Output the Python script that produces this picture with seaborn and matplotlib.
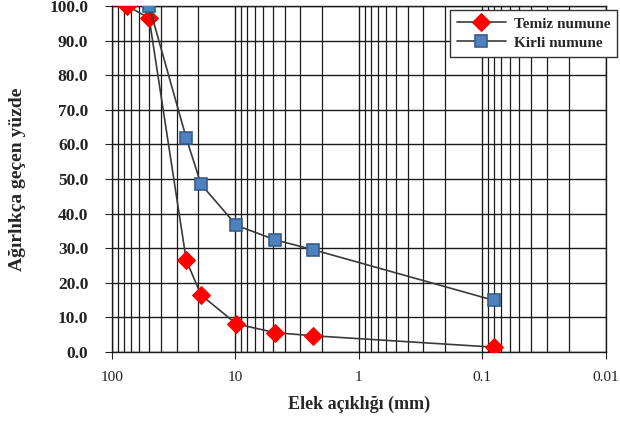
import pandas as pd
import numpy as np
import matplotlib
matplotlib.use("Agg")
import matplotlib.pyplot as plt
import seaborn as sns
from matplotlib.ticker import FixedLocator, LogLocator, NullFormatter

# Elek analizi verileri
temiz_elek = [75, 50, 25, 19, 9.8, 4.75, 2.36, 0.08]
temiz_gecen = [100.0, 96.5, 26.5, 16.5, 8.1, 5.6, 4.7, 1.4]
kirli_elek = [50, 25, 19, 9.8, 4.75, 2.36, 0.08]
kirli_gecen = [100.0, 61.8, 48.5, 36.6, 32.4, 29.6, 14.9]
x_ticks = [100, 10, 1, 0.1, 0.01]
x_labels = ["100", "10", "1", "0.1", "0.01"]
y_ticks = list(range(0, 101, 10))

sns.set_style("white")
plt.rcParams['font.family'] = ['Liberation Serif', 'DejaVu Serif']

df_t = pd.DataFrame({"elek": temiz_elek, "gecen": temiz_gecen})
df_k = pd.DataFrame({"elek": kirli_elek, "gecen": kirli_gecen})

fig = plt.figure(figsize=(6.2, 4.23), dpi=100)
ax = fig.add_axes([0.1806, 0.1678, 0.7964, 0.8180])

sns.lineplot(data=df_t, x="elek", y="gecen", ax=ax, color="#3a3a3a", lw=1.2,
             marker="D", markersize=9, markerfacecolor="#ff0000",
             markeredgecolor="#ff0000", label="Temiz numune", zorder=4)
sns.lineplot(data=df_k, x="elek", y="gecen", ax=ax, color="#3a3a3a", lw=1.2,
             marker="s", markersize=8, markerfacecolor="#4f81bd",
             markeredgecolor="#385d8a", markeredgewidth=1.2,
             label="Kirli numune", zorder=4)

ax.set_xscale("log")
ax.set_xlim(100, 0.01)
ax.set_ylim(0, 100)

ax.xaxis.set_major_locator(FixedLocator(x_ticks))
ax.set_xticklabels(x_labels)
ax.xaxis.set_minor_locator(LogLocator(base=10, subs=np.arange(2, 10)))
ax.xaxis.set_minor_formatter(NullFormatter())
ax.set_yticks(y_ticks)
ax.set_yticklabels([f"{v:.1f}" for v in y_ticks], fontweight="bold")

ax.grid(which="major", axis="both", color="#1a1a1a", lw=1.0)
ax.grid(which="minor", axis="x", color="#1a1a1a", lw=0.9)
ax.set_axisbelow(True)

for s in ax.spines.values():
    s.set_color("#1a1a1a")
    s.set_linewidth(1.0)

ax.tick_params(axis="x", which="major", length=5, direction="out", labelsize=11, pad=9, colors="#222222")
ax.tick_params(axis="x", which="minor", length=0)
ax.tick_params(axis="y", length=5, direction="out", labelsize=12.5, pad=12, colors="#222222")
ax.tick_params(bottom=True, left=True)

ax.set_xlabel("Elek açıklığı (mm)", fontsize=13, fontweight="bold", labelpad=8)
ax.set_ylabel("Ağırlıkça geçen yüzde", fontsize=14, fontweight="bold", labelpad=17)

leg = ax.legend(loc="upper right", bbox_to_anchor=(0.995, 0.976), bbox_transform=fig.transFigure,
                borderaxespad=0, frameon=True, fancybox=False, shadow=False, borderpad=0.45,
                handlelength=3.2, handletextpad=0.5, labelspacing=0.35,
                prop={"weight": "bold", "size": 11})
leg.get_frame().set_edgecolor("#333333")
leg.get_frame().set_linewidth(1.0)
leg.get_frame().set_alpha(1.0)

plt.savefig("out.png", dpi=100)
